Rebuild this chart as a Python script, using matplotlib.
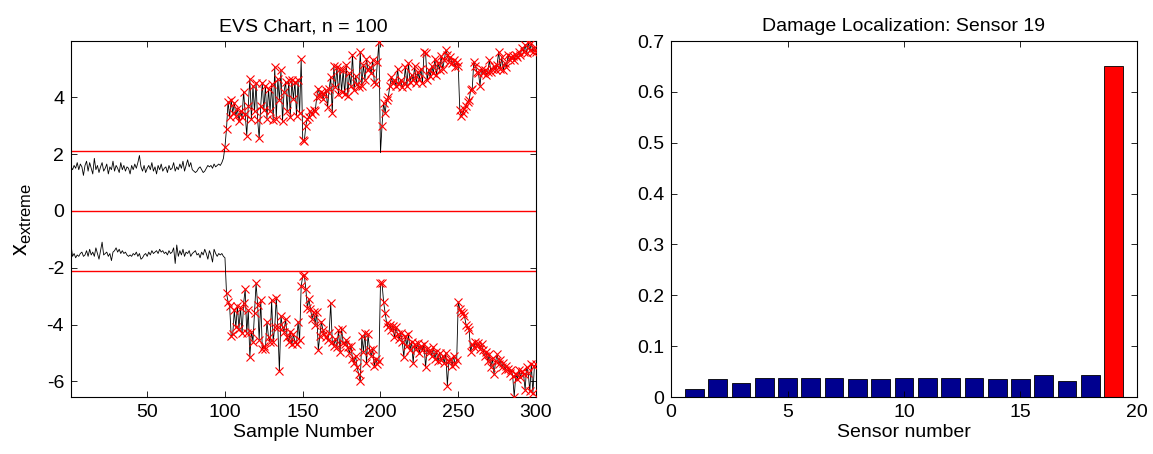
import numpy as np
import matplotlib
matplotlib.use("Agg")
import matplotlib.pyplot as plt
from matplotlib.ticker import FuncFormatter

plt.rcParams['font.family'] = ['Liberation Sans', 'DejaVu Sans']
plt.rcParams['mathtext.fontset'] = 'custom'
plt.rcParams['mathtext.rm'] = 'Liberation Sans'
plt.rcParams['axes.unicode_minus'] = False

# ---------------- data ----------------
upper_extreme = [
    1.55, 1.45, 1.60, 1.50, 1.70, 1.45, 1.65, 1.55, 1.25, 1.60,
    1.75, 1.40, 1.70, 1.50, 1.30, 1.85, 1.45, 1.60, 1.35, 1.55,
    1.70, 1.40, 1.50, 1.65, 1.30, 1.55, 1.45, 1.75, 1.40, 1.60,
    1.50, 1.35, 1.70, 1.45, 1.60, 1.40, 1.55, 1.50, 1.30, 1.60,
    1.45, 1.65, 1.50, 1.70, 1.95, 1.55, 1.40, 1.60, 1.35, 1.50,
    1.60, 1.45, 1.70, 1.40, 1.55, 1.30, 1.60, 1.45, 1.65, 1.40,
    1.50, 1.55, 1.35, 1.60, 1.45, 1.50, 1.70, 1.40, 1.55, 1.45,
    1.65, 1.50, 1.75, 1.40, 1.60, 1.80, 1.55, 1.70, 1.45, 1.40,
    1.35, 1.40, 1.50, 1.55, 1.45, 1.35, 1.40, 1.50, 1.60, 1.55,
    1.60, 1.50, 1.65, 1.55, 1.60, 1.65, 1.60, 1.70, 1.85, 2.25,
    2.90, 3.85, 3.30, 3.90, 3.45, 3.80, 3.35, 3.60, 3.15, 3.50,
    3.30, 4.20, 3.40, 2.65, 3.70, 4.65, 3.25, 4.40, 3.50, 4.50,
    3.20, 2.55, 3.70, 4.50, 3.55, 4.40, 3.25, 4.30, 3.50, 4.45,
    3.20, 5.05, 3.25, 4.65, 3.90, 4.95, 3.15, 4.20, 4.55, 3.50,
    4.60, 3.30, 4.60, 3.95, 4.55, 3.35, 4.60, 3.45, 5.35, 2.50,
    2.45, 3.00, 3.25, 3.30, 3.50, 3.40, 3.55, 3.50, 4.00, 4.30,
    4.05, 4.20, 3.95, 4.10, 4.25, 3.65, 4.30, 4.70, 3.45, 5.10,
    4.35, 5.05, 4.10, 5.00, 4.20, 4.95, 4.10, 5.15, 4.05, 4.85,
    4.40, 5.50, 4.25, 4.75, 4.45, 4.35, 5.60, 4.40, 5.15, 4.60,
    5.35, 4.95, 5.05, 4.85, 5.30, 4.55, 4.45, 5.25, 5.95, 2.05,
    3.00, 3.80, 3.45, 3.90, 4.00, 4.40, 4.70, 4.50, 4.60, 4.40,
    5.00, 4.45, 4.60, 4.35, 4.50, 5.05, 4.40, 5.20, 4.55, 4.80,
    4.60, 5.10, 4.50, 4.90, 4.65, 5.00, 4.50, 5.60, 5.55, 4.60,
    4.95, 4.75, 5.10, 4.85, 5.35, 4.80, 5.20, 4.95, 5.45, 5.00,
    5.30, 5.65, 5.50, 5.25, 5.40, 5.20, 5.30, 5.05, 5.25, 5.10,
    3.55, 3.35, 3.45, 3.60, 3.70, 3.85, 3.90, 4.25, 4.30, 5.25,
    5.10, 4.90, 4.85, 4.40, 5.00, 4.85, 4.95, 4.80, 4.90, 5.30,
    4.90, 5.00, 5.10, 4.95, 5.15, 5.60, 5.00, 5.40, 4.95, 5.20,
    5.05, 5.50, 5.30, 5.40, 5.45, 5.30, 5.50, 5.40, 5.60, 5.50,
    5.75, 5.60, 5.85, 5.55, 5.95, 5.65, 5.90, 5.60, 5.75, 5.60,
]

lower_extreme = [
    -1.20, -1.60, -1.50, -1.65, -1.55, -1.60, -1.50, -1.45, -1.60, -1.55,
    -1.40, -1.60, -1.35, -1.55, -1.45, -1.60, -1.30, -1.50, -1.70, -1.40,
    -1.10, -1.55, -1.50, -1.45, -1.60, -1.50, -1.75, -1.45, -1.40, -1.30,
    -1.45, -1.35, -1.50, -1.40, -1.50, -1.45, -1.55, -1.60, -1.55, -1.60,
    -1.50, -1.55, -1.45, -1.60, -1.50, -1.70, -1.65, -1.55, -1.50, -1.60,
    -1.45, -1.55, -1.40, -1.50, -1.45, -1.40, -1.50, -1.35, -1.45, -1.40,
    -1.50, -1.45, -1.55, -1.40, -1.50, -1.45, -1.30, -1.85, -1.20, -1.60,
    -1.40, -1.55, -1.35, -1.60, -1.45, -1.50, -1.40, -1.60, -1.50, -1.45,
    -1.40, -1.55, -1.50, -1.65, -1.45, -1.55, -1.35, -1.50, -1.70, -1.40,
    -1.55, -1.80, -1.35, -1.50, -1.60, -1.50, -1.55, -1.50, -1.60, -1.65,
    -2.90, -3.20, -3.35, -4.40, -4.35, -3.50, -4.10, -3.35, -4.15, -3.40,
    -4.30, -3.25, -2.75, -4.30, -3.50, -5.15, -4.25, -4.60, -3.60, -2.55,
    -3.30, -4.55, -3.15, -4.85, -4.75, -4.85, -3.90, -4.45, -4.60, -3.15,
    -4.60, -4.10, -3.05, -4.10, -5.65, -3.70, -4.10, -4.25, -3.80, -4.45,
    -4.60, -4.25, -4.70, -4.35, -4.60, -4.70, -3.90, -4.55, -2.65, -2.30,
    -2.25, -2.75, -3.40, -3.10, -3.45, -3.80, -3.55, -4.00, -3.55, -4.90,
    -4.40, -3.90, -4.20, -4.35, -4.45, -4.55, -4.30, -3.25, -4.60, -4.75,
    -4.50, -4.80, -4.20, -4.95, -4.15, -4.65, -4.70, -4.55, -4.80, -5.00,
    -4.75, -5.20, -5.35, -5.10, -5.50, -5.75, -6.00, -4.40, -4.95, -4.30,
    -5.35, -4.35, -4.90, -5.10, -4.85, -5.45, -5.20, -5.40, -5.30, -2.55,
    -2.55, -3.20, -3.60, -3.95, -4.10, -4.00, -4.20, -4.05, -4.45, -4.10,
    -4.35, -4.50, -4.30, -4.60, -5.15, -4.40, -4.75, -4.35, -4.90, -4.60,
    -5.35, -4.70, -4.85, -4.65, -5.00, -4.75, -4.90, -4.70, -5.50, -4.85,
    -5.00, -4.90, -5.10, -4.80, -5.20, -4.95, -5.30, -5.00, -5.25, -5.10,
    -5.35, -5.00, -6.15, -5.30, -5.20, -5.45, -5.10, -5.40, -5.25, -3.20,
    -3.45, -3.55, -3.60, -3.70, -4.00, -4.10, -4.20, -4.95, -4.70, -4.80,
    -4.60, -4.75, -4.65, -4.85, -4.70, -4.90, -5.10, -4.95, -5.30, -5.05,
    -5.50, -5.20, -5.75, -5.30, -5.05, -5.40, -5.25, -5.50, -5.35, -5.60,
    -5.45, -5.55, -5.70, -5.60, -5.80, -6.55, -5.75, -5.90, -5.60, -5.85,
    -5.65, -5.75, -6.30, -5.50, -5.70, -6.35, -5.40, -6.40, -5.45, -5.40,
]

control_limit = 2.1
sensor_numbers = list(range(1, 20))
damage_index = [0.016, 0.035, 0.028, 0.037, 0.037, 0.037, 0.037, 0.035, 0.035,
                0.037, 0.037, 0.037, 0.037, 0.035, 0.035, 0.044, 0.031, 0.044, 0.650]
damaged_sensor = 19

# ---------------- figure ----------------
W, H = 1153, 454
fig = plt.figure(figsize=(W / 100, H / 100), dpi=100)

def ax_rect(x0, y0, x1, y1):
    return [x0 / W, 1 - y1 / H, (x1 - x0) / W, (y1 - y0) / H]

FS = 14
ax1 = fig.add_axes(ax_rect(71, 41, 536, 397))
ax2 = fig.add_axes(ax_rect(671, 41, 1137, 397))

samples = np.arange(1, len(upper_extreme) + 1)
up = np.array(upper_extreme)
lo = np.array(lower_extreme)

for ser in (up, lo):
    ax1.plot(samples, ser, color='black', lw=0.6, zorder=3)
    out = np.abs(ser) > control_limit
    ax1.plot(samples[out], ser[out], linestyle='none', marker='x',
             color='red', ms=6, mew=0.8, zorder=4)

for yv in (control_limit, 0.0, -control_limit):
    ax1.axhline(yv, color='red', lw=1.0, zorder=2)

ax1.set_xlim(1, 300)
ax1.set_ylim(-6.55, 5.98)
ax1.set_xticks([50, 100, 150, 200, 250, 300])
ax1.set_yticks([-6, -4, -2, 0, 2, 4])
ax1.set_title('EVS Chart, n = 100', fontsize=FS, pad=7)
ax1.set_xlabel('Sample Number', fontsize=FS, labelpad=2)
ax1.set_ylabel(r'x$_\mathregular{extreme}$', fontsize=17, labelpad=9)

colors = ['red' if s == damaged_sensor else '#00008F' for s in sensor_numbers]
ax2.bar(sensor_numbers, damage_index, width=0.8, color=colors,
        edgecolor='black', linewidth=0.6)
ax2.set_xlim(0, 20)
ax2.set_ylim(0, 0.7)
ax2.set_xticks([0, 5, 10, 15, 20])
ax2.set_yticks([0, 0.1, 0.2, 0.3, 0.4, 0.5, 0.6, 0.7])
ax2.yaxis.set_major_formatter(FuncFormatter(lambda v, p: '%g' % round(v, 2)))
ax2.set_title('Damage Localization: Sensor ' + str(damaged_sensor), fontsize=FS, pad=7)
ax2.set_xlabel('Sensor number', fontsize=FS, labelpad=2)

for ax in (ax1, ax2):
    ax.tick_params(direction='in', top=True, right=True, labelsize=FS,
                   length=4, width=0.6, pad=5)
    for sp in ax.spines.values():
        sp.set_linewidth(0.8)

fig.savefig('out.png', dpi=100)
